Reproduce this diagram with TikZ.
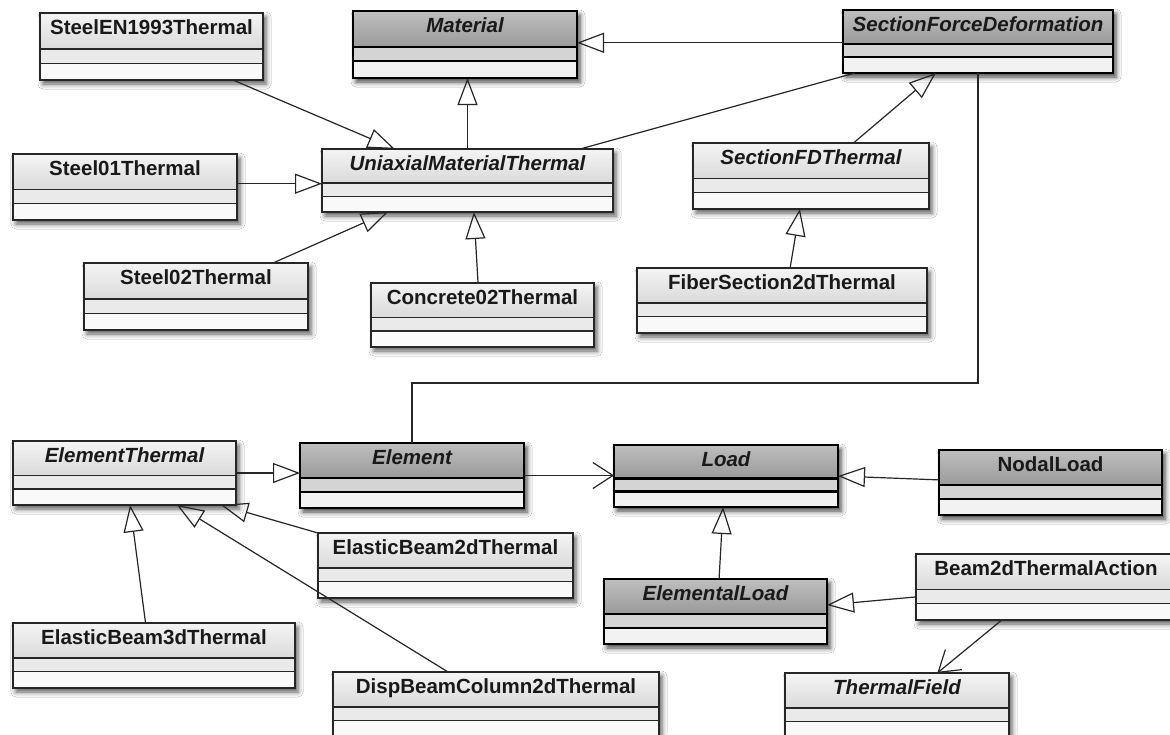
\documentclass[tikz,border=0pt]{standalone}
\usepackage{fontspec}
\setmainfont{Liberation Sans}
\usetikzlibrary{arrows.meta,calc,shadows.blur}
\definecolor{dhdrT}{HTML}{BEBEBE}
\definecolor{dhdrB}{HTML}{9A9A9A}
\definecolor{dattr}{HTML}{D4D4D4}
\definecolor{dops}{HTML}{F2F2F2}
\definecolor{lhdrT}{HTML}{F4F4F4}
\definecolor{lhdrB}{HTML}{DADADA}
\definecolor{lattr}{HTML}{EAEAEA}
\definecolor{lops}{HTML}{F9F9F9}
\tikzset{
  lightbox/.style={rectangle, inner sep=0pt, outer sep=0pt, fill=lops,
    blur shadow={shadow xshift=3pt, shadow yshift=-4pt, shadow blur radius=5pt, shadow opacity=65}},
  darkbox/.style={rectangle, inner sep=0pt, outer sep=0pt, fill=dops,
    blur shadow={shadow xshift=3pt, shadow yshift=-4pt, shadow blur radius=5pt, shadow opacity=75}},
  lighthdr/.style={top color=lhdrT, bottom color=lhdrB},
  darkhdr/.style={top color=dhdrT, bottom color=dhdrB},
  lightattr/.style={fill=lattr},
  darkattr/.style={fill=dattr},
  lightsep/.style={draw=black!85, line width=1.4pt},
  darksep/.style={draw=black, line width=2.4pt},
  lightborder/.style={draw=black!85, line width=1.8pt},
  darkborder/.style={draw=black, line width=2.8pt},
  classname/.style={inner sep=0pt, font=\fontsize{20.5}{24}\selectfont\bfseries, text=black!90},
  gen/.style={draw=black!85, line width=1.2pt, -{Triangle[open, length=27pt, width=20pt, line width=1.2pt]}},
  assoc/.style={draw=black!85, line width=1.2pt, -{Straight Barb[length=20pt, width=26pt, line width=1.2pt]}},
  plainline/.style={draw=black!85, line width=1.2pt},
}
\newcommand\umlclass[8]{%
  \node[#2box, minimum width={(#5)-(#3)}, minimum height={(#6)-(#4)}] (#1) at ({((#3)+(#5))/2},{((#4)+(#6))/2}) {};
  \path[#2hdr] (#1.north west) rectangle ($(#1.north east)!0.54!(#1.south east)$);
  \path[#2attr] ($(#1.north west)!0.54!(#1.south west)$) rectangle ($(#1.north east)!0.75!(#1.south east)$);
  \draw[#2sep] ($(#1.north west)!0.54!(#1.south west)$) -- ($(#1.north east)!0.54!(#1.south east)$);
  \draw[#2sep] ($(#1.north west)!0.75!(#1.south west)$) -- ($(#1.north east)!0.75!(#1.south east)$);
  \draw[#2border] (#1.north west) rectangle (#1.south east);
  \node[classname, anchor=base] (#1-name) at ($(#1.north)+(0,21)$) {#7#8};
}
\begin{document}
\begin{tikzpicture}[x=1pt,y=-1pt]
\useasboundingbox (0,0) rectangle (1170,734);
\fill[white] (0,0) rectangle (1170,734);
\clip (0,0) rectangle (1170,734);

\umlclass{seen}{light}{40}{13}{263}{80}{}{SteelEN1993Thermal}
\umlclass{material}{dark}{353}{11}{577}{78}{\itshape}{Material}
\umlclass{sfd}{dark}{843}{10}{1113}{73}{\itshape}{SectionForceDeformation}
\umlclass{sone}{light}{13}{154}{237}{220}{}{Steel01Thermal}
\umlclass{umt}{light}{322}{149}{613}{212}{\itshape}{UniaxialMaterialThermal}
\umlclass{sfdt}{light}{693}{143}{929}{209}{\itshape}{SectionFDThermal}
\umlclass{stwo}{light}{84}{263}{308}{330}{}{Steel02Thermal}
\umlclass{conc}{light}{371}{283}{594}{347}{}{Concrete02Thermal}
\umlclass{fiber}{light}{637}{268}{927}{333}{}{FiberSection2dThermal}
\umlclass{et}{light}{13}{441}{236}{505}{\itshape}{ElementThermal}
\umlclass{el}{dark}{300}{443}{524}{508}{\itshape}{Element}
\umlclass{load}{dark}{614}{445}{838}{507}{\itshape}{Load}
\umlclass{nodal}{dark}{939}{450}{1162}{515}{}{NodalLoad}
\umlclass{ebtwo}{light}{318}{533}{573}{598}{}{ElasticBeam2dThermal}
\umlclass{eload}{dark}{604}{579}{827}{644}{\itshape}{ElementalLoad}
\umlclass{bta}{light}{916}{554}{1176}{620}{}{Beam2dThermalAction}
\umlclass{ebthree}{light}{13}{623}{295}{688}{}{ElasticBeam3dThermal}
\umlclass{dbc}{light}{333}{672}{659}{737}{}{DispBeamColumn2dThermal}
\umlclass{tf}{light}{785}{673}{1009}{738}{\itshape}{ThermalField}

% connectors
\coordinate (s1a) at ($(sone.north east)!0.45!(sone.south east)$);
\coordinate (sfda) at ($(sfd.north west)!0.52!(sfd.south west)$);
\coordinate (route) at (0,383);

\draw[gen] ($(seen.south west)!0.865!(seen.south east)$) -- ($(umt.north west)!0.25!(umt.north east)$);
\draw[gen] (s1a) -- (s1a -| umt.west);
\draw[gen] ($(stwo.north west)!0.844!(stwo.north east)$) -- ($(umt.south west)!0.227!(umt.south east)$);
\draw[gen] ($(conc.north west)!0.48!(conc.north east)$) -- ($(umt.south west)!0.522!(umt.south east)$);
\draw[gen] (umt.north) -- (umt.north |- material.south);
\draw[plainline] ($(umt.north west)!0.887!(umt.north east)$) -- ($(sfd.south west)!0.044!(sfd.south east)$);
\draw[gen] (sfda) -- (sfda -| material.east);
\draw[gen] ($(sfdt.north west)!0.68!(sfdt.north east)$) -- ($(sfd.south west)!0.344!(sfd.south east)$);
\draw[gen] ($(fiber.north west)!0.528!(fiber.north east)$) -- ($(sfdt.south west)!0.453!(sfdt.south east)$);
\draw[plainline] (sfd.south) -- (sfd.south |- route) -- (el.north |- route) -- (el.north);
\draw[gen] (et.east) -- (et.east -| el.west);
\draw[assoc] (el.east) -- (el.east -| load.west);
\draw[gen] ($(nodal.north west)!0.46!(nodal.south west)$) -- (load.east);
\draw[gen] ($(eload.north west)!0.516!(eload.north east)$) -- ($(load.south west)!0.487!(load.south east)$);
\draw[gen] ($(bta.north west)!0.65!(bta.south west)$) -- ($(eload.north east)!0.4!(eload.south east)$);
\draw[assoc] ($(bta.south west)!0.33!(bta.south east)$) -- ($(tf.north west)!0.68!(tf.north east)$);
\draw[gen] ($(ebthree.north west)!0.47!(ebthree.north east)$) -- ($(et.south west)!0.525!(et.south east)$);
\draw[gen] (ebtwo.north west) -- ($(et.south west)!0.933!(et.south east)$);
\draw[gen] ($(dbc.north west)!0.353!(dbc.north east)$) -- ($(et.south west)!0.735!(et.south east)$);
\end{tikzpicture}
\end{document}
